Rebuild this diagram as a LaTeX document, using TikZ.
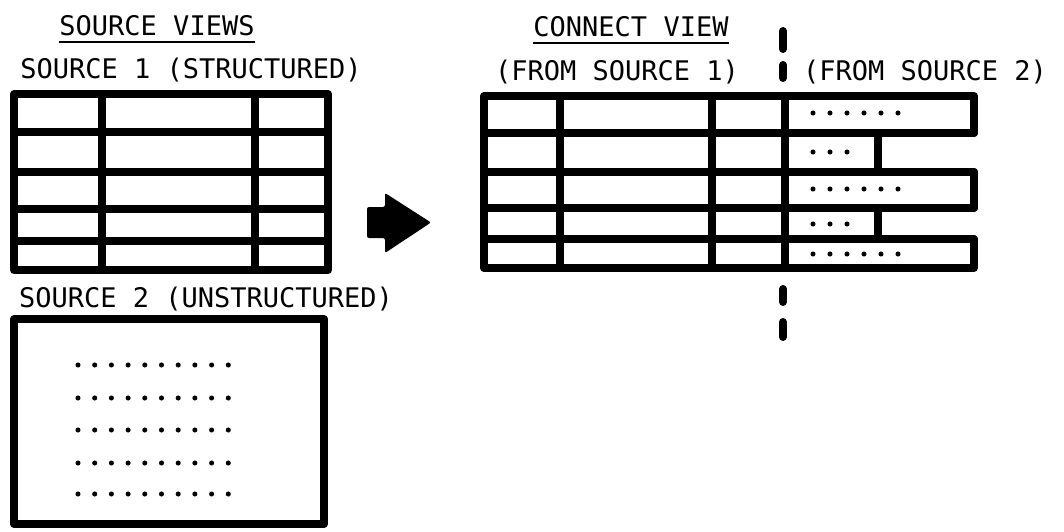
\documentclass[tikz,border=0pt]{standalone}
\usepackage{fontspec}
\setmonofont{DejaVu Sans Mono}
\tikzset{
  tbl/.style={line width=6pt, line join=round, line cap=round},
  lbl/.style={anchor=base, inner sep=0pt, font=\ttfamily\fontsize{20.25}{24}\selectfont},
  uline/.style={line width=1.5pt},
  sep/.style={line width=6pt, line cap=round},
  dot/.style={radius=1.9pt}
}
\begin{document}
\begin{tikzpicture}[x=0.75pt,y=0.75pt,yscale=-1,xscale=1]
\useasboundingbox (0,0) rectangle (1064,532);
% titles
\node[lbl] (views) at (157,35) {SOURCE VIEWS};
\draw[uline] ([yshift=5.5pt]views.base west) -- ([yshift=5.5pt]views.base east);
\node[lbl] (connect) at (631,36) {CONNECT VIEW};
\draw[uline] ([yshift=5.5pt]connect.base west) -- ([yshift=5.5pt]connect.base east);
\node[lbl] (src1) at (191,78) {SOURCE 1 (STRUCTURED)};
\node[lbl] (src2) at (206,307) {SOURCE 2 (UNSTRUCTURED)};
\node[lbl] (from1) at (617,80) {(FROM SOURCE 1)};
\node[lbl] (from2) at (925,80) {(FROM SOURCE 2)};
% source 1 table
\draw[tbl] (14,94) rectangle (328,270);
\foreach \x in {102,255} \draw[tbl] (\x,94) -- (\x,270);
\foreach \y in {132,171.5,209,240.5} \draw[tbl] (14,\y) -- (328,\y);
% source 2 box
\draw[tbl] (14,319) rectangle (324,524);
\foreach \r in {365,398,430,463,494}
  \foreach \i in {0,...,9} \fill (78+16.7*\i,\r) circle [dot];
% arrow
\fill[rounded corners=1.5pt] (367,207) -- (385,207) -- (385,193) -- (431,222.5) -- (385,253) -- (385,238) -- (367,238) -- cycle;
% connect table
\draw[tbl] (974,96) -- (484,96) -- (484,268) -- (974,268) -- (974,239)
  (974,208) -- (974,172) (974,133) -- (974,96)
  (878,133) -- (878,172) (878,208) -- (878,239);
\foreach \y in {133,172,208,239} \draw[tbl] (484,\y) -- (974,\y);
\foreach \x in {560,712,785} \draw[tbl] (\x,96) -- (\x,268);
\foreach \r/\n in {113/5,152/2,189/5,224/2,254/5}
  \foreach \i in {0,...,\n} \fill (813+17*\i,\r) circle [dot];
% separator
\draw[sep] (783,31) -- (783,49);
\draw[sep] (783,65) -- (783,78);
\draw[sep] (783,289) -- (783,302);
\draw[sep] (783,322) -- (783,337);
\end{tikzpicture}
\end{document}
